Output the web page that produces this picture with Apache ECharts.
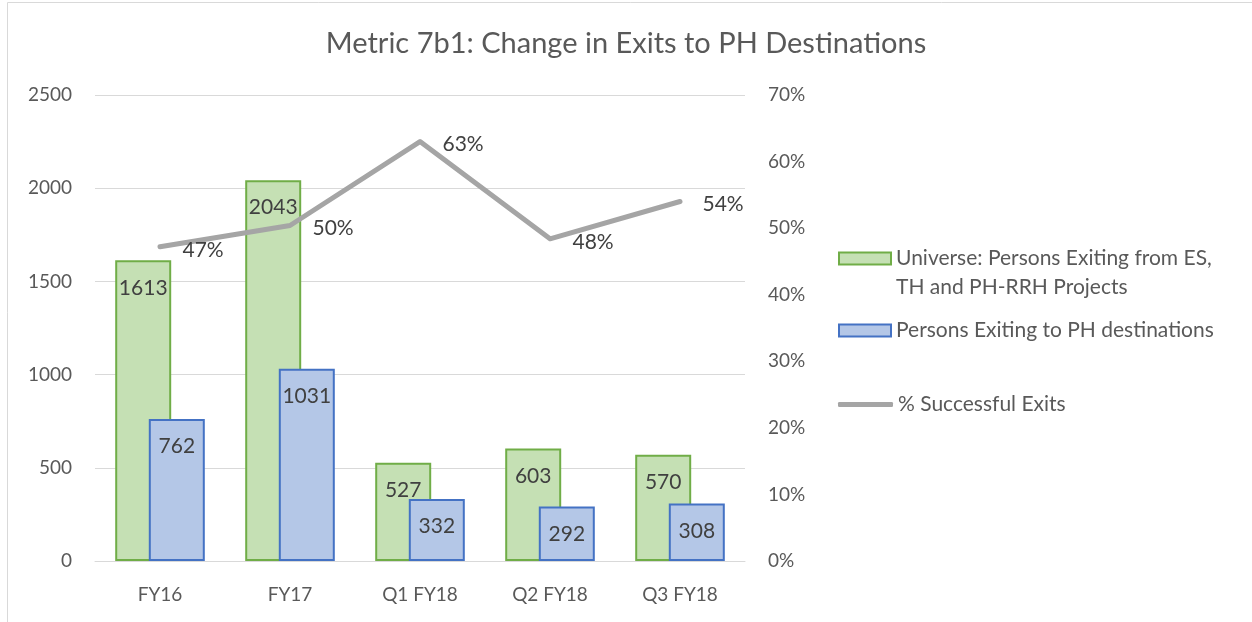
<!DOCTYPE html>
<html>
<head>
<meta charset="utf-8">
<script src="https://cdn.jsdelivr.net/npm/echarts@6/dist/echarts.min.js"></script>
<style>
  html, body { margin: 0; padding: 0; background: #fff; }
  #mycharts { width: 1252px; height: 622px; }
</style>
</head>
<body>
<div id="mycharts"></div>
<script>
// categories and values
const categories = ['FY16', 'FY17', 'Q1 FY18', 'Q2 FY18', 'Q3 FY18'];
const universe = [1613, 2043, 527, 603, 570];
const exitsToPH = [762, 1031, 332, 292, 308];
const successPct = [47.2, 50.4, 63.0, 48.4, 54.0];

const leftTicks = [0, 500, 1000, 1500, 2000, 2500];
const rightTicks = [0, 10, 20, 30, 40, 50, 60, 70];

const NAME_U = 'Universe: Persons Exiting from ES, TH and PH-RRH Projects';
const NAME_P = 'Persons Exiting to PH destinations';
const NAME_S = '% Successful Exits';

const FONT = 'Lato';
const GREY = '#595959';

let sampleChart = echarts.init(document.getElementById('mycharts'));

const legendBase = {
    orient: 'vertical',
    left: 833,
    itemWidth: 52,
    itemHeight: 12,
    icon: 'rect',
    selectedMode: false,
    textStyle: {fontFamily: FONT, fontSize: 21, color: GREY, lineHeight: 29}
};

sampleChart.setOption({
    animation: false,
    textStyle: {fontFamily: FONT},
    title: {
        text: 'Metric 7b1: Change in Exits to PH Destinations',
        left: 'center',
        top: 24,
        textStyle: {fontFamily: FONT, fontSize: 29, fontWeight: 'normal', color: GREY}
    },
    graphic: [{
        type: 'rect',
        shape: {x: 7.5, y: 2.5, width: 1300, height: 700},
        style: {fill: 'none', stroke: '#d9d9d9', lineWidth: 1},
        silent: true
    }],
    legend: [
        Object.assign({}, legendBase, {
            top: 210,
            data: [NAME_U],
            // blank first line keeps the icon level with the first text line
            formatter: function () { return ' \nUniverse: Persons Exiting from ES,\nTH and PH-RRH Projects'; }
        }),
        Object.assign({}, legendBase, {
            top: 311,
            data: [NAME_P]
        }),
        Object.assign({}, legendBase, {
            top: 385,
            itemWidth: 55,
            itemHeight: 5,
            icon: 'roundRect',
            data: [{name: NAME_S, itemStyle: {color: '#a5a5a5', borderWidth: 0}}]
        })
    ],
    grid: {left: 95, right: 507, top: 95, bottom: 61},
    xAxis: {
        type: 'category',
        data: categories,
        axisTick: {show: false},
        axisLine: {lineStyle: {color: '#d9d9d9', width: 1}},
        axisLabel: {fontFamily: FONT, fontSize: 19, color: GREY, margin: 24}
    },
    yAxis: [{
        type: 'value',
        min: leftTicks[0],
        max: leftTicks[leftTicks.length - 1],
        interval: 500,
        axisLine: {show: false},
        axisTick: {show: false},
        splitLine: {lineStyle: {color: '#d9d9d9', width: 1}},
        axisLabel: {fontFamily: FONT, fontSize: 19, color: GREY, margin: 23, formatter: function (v) { return String(v); }}
    }, {
        type: 'value',
        min: rightTicks[0],
        max: rightTicks[rightTicks.length - 1],
        interval: 10,
        axisLine: {show: false},
        axisTick: {show: false},
        splitLine: {show: false},
        axisLabel: {fontFamily: FONT, fontSize: 19, color: GREY, margin: 23, formatter: '{value}%'}
    }],
    series: [{
        name: NAME_U,
        type: 'bar',
        data: universe,
        barWidth: 56,
        barGap: '-40%',
        itemStyle: {color: '#c5e0b4', borderColor: '#70ad47', borderWidth: 2},
        label: {show: true, position: 'insideTop', distance: 17, fontFamily: FONT, fontSize: 21, color: '#404040'}
    }, {
        name: NAME_P,
        type: 'bar',
        data: exitsToPH,
        barWidth: 56,
        barGap: '-40%',
        itemStyle: {color: '#b4c7e7', borderColor: '#4472c4', borderWidth: 2},
        label: {show: true, position: 'insideTop', distance: 17, fontFamily: FONT, fontSize: 21, color: '#404040'}
    }, {
        name: NAME_S,
        type: 'line',
        yAxisIndex: 1,
        data: successPct,
        symbol: 'circle',
        symbolSize: 1,
        showSymbol: true,
        z: 5,
        lineStyle: {color: '#a5a5a5', width: 5, cap: 'round', join: 'round'},
        itemStyle: {color: '#a5a5a5'},
        label: {
            show: true,
            position: 'right',
            distance: 22,
            offset: [0, 3],
            fontFamily: FONT,
            fontSize: 21,
            color: '#404040',
            formatter: function (p) { return Math.round(p.value) + '%'; }
        }
    }]
});
</script>
</body>
</html>
